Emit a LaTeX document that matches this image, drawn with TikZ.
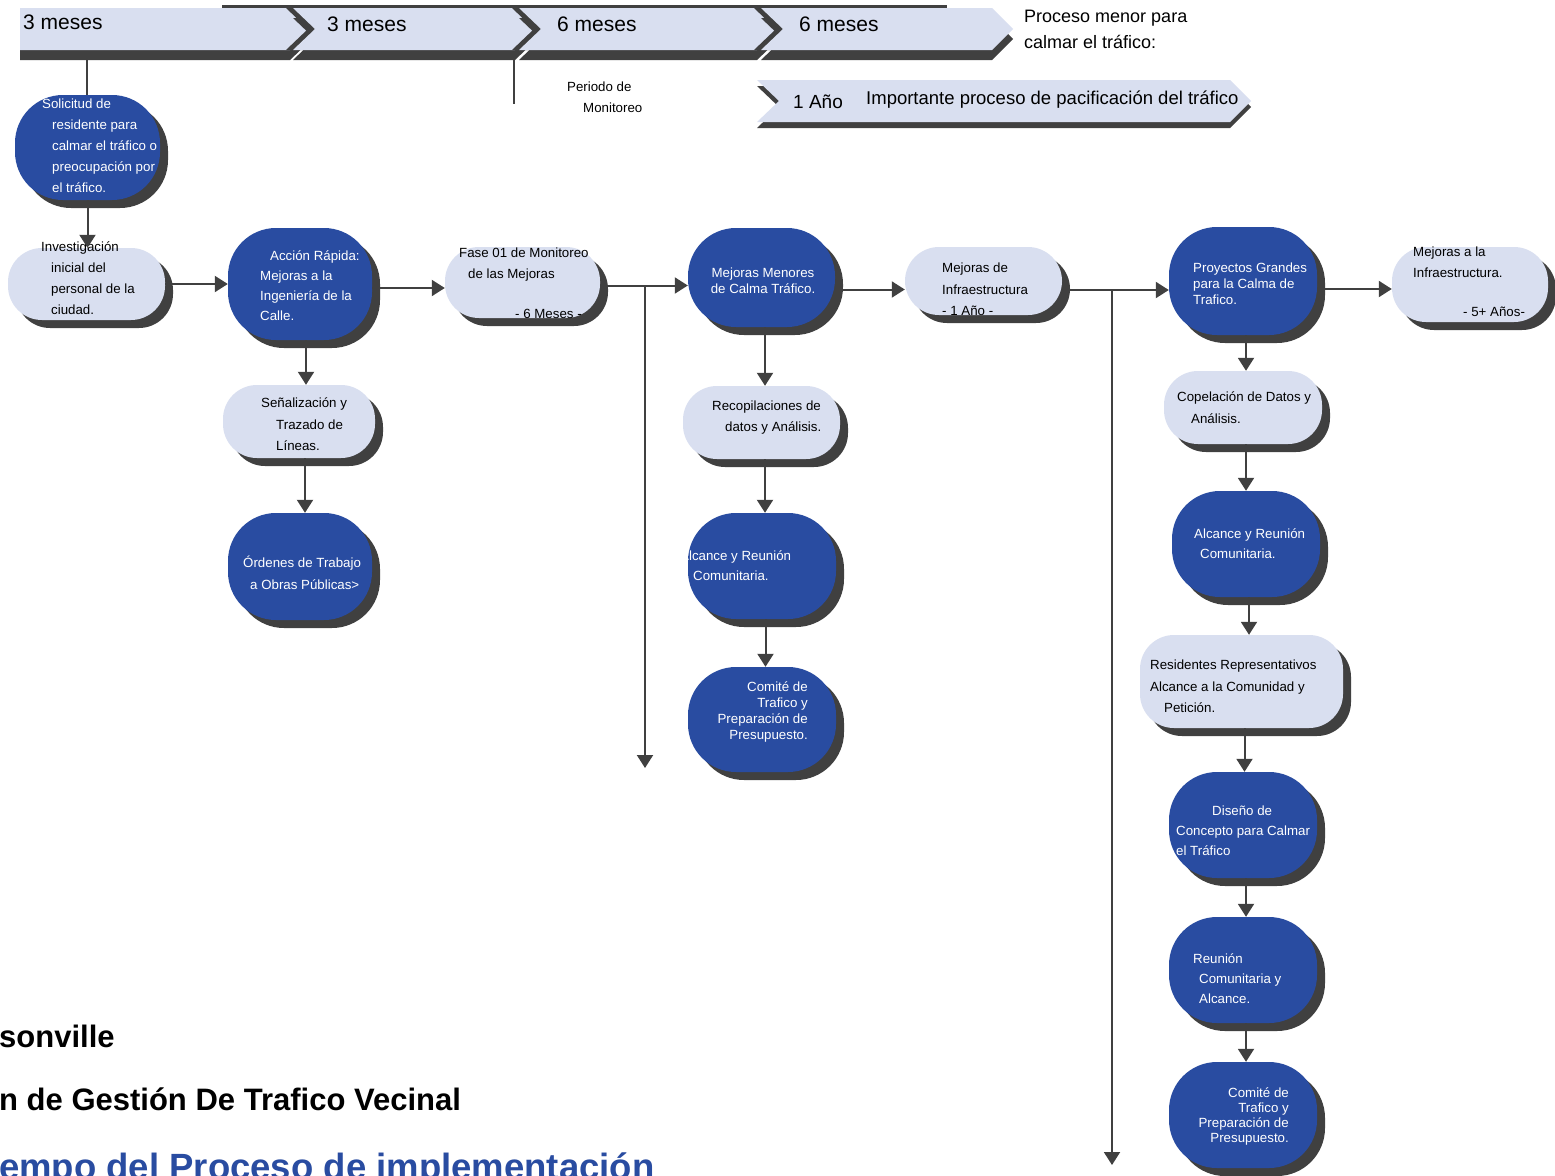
\documentclass[tikz,border=0pt]{standalone}
\usepackage{fontspec}
\setmainfont{Liberation Sans}
\usetikzlibrary{arrows.meta,shadows}

\definecolor{calmblue}{RGB}{41,76,161}
\definecolor{calmlight}{RGB}{217,223,240}
\definecolor{calmgray}{RGB}{64,64,64}

\tikzset{
    darkblob/.style={rectangle, rounded corners=48pt, fill=calmblue, inner sep=0pt,
        drop shadow={shadow xshift=8pt, shadow yshift=-8pt, fill=calmgray, opacity=1}},
    lightblob/.style={darkblob, rounded corners=34pt, fill=calmlight},
    wtext/.style={text=white, inner sep=0pt, align=left, anchor=north west,
        font={\fontsize{13.3}{21}\selectfont}},
    btext/.style={wtext, text=black},
    chevron/.style={fill=calmlight,
        drop shadow={shadow xshift=0pt, shadow yshift=-#1, fill=calmgray, opacity=1}},
    chevron/.default=10pt,
    notched/.style={chevron,
        general shadow={shadow xshift=-7pt, fill=calmgray}},
    conn/.style={draw=calmgray, line width=2pt},
    arr/.style={conn, -{Triangle[width=16pt,length=13pt]}},
    heading/.style={anchor=base west, inner sep=0pt, font={\bfseries\fontsize{31}{36}\selectfont}}
}

\begin{document}
\begin{tikzpicture}[x=1pt, y=-1pt]
    \useasboundingbox (0,0) rectangle (1555,1175);
    \clip (0,0) rectangle (1555,1175);
    \fill[white] (0,0) rectangle (1555,1175);

    \fill[calmgray] (222,5) rectangle (947,9);
    \path[chevron] (20,8) -- (290,8) -- (312,29) -- (290,50) -- (20,50) -- cycle;
    \path[notched] (293,8) -- (515,8) -- (537,29) -- (515,50) -- (293,50) -- (315,29) -- cycle;
    \path[notched] (519,8) -- (757,8) -- (779,29) -- (757,50) -- (519,50) -- (541,29) -- cycle;
    \path[notched] (761,8) -- (992,8) -- (1013,29) -- (992,50) -- (761,50) -- (783,29) -- cycle;
    \foreach \x/\y/\t [count=\i] in {23/29/3 meses, 327/31/3 meses, 557/31/6 meses, 799/31/6 meses}
        \node[anchor=base west, inner sep=0pt, font={\fontsize{21}{24}\selectfont}] (dur\i) at (\x,\y) {\t};
    \node[btext, font={\fontsize{18}{26}\selectfont}] (minor) at (1024,10) {Proceso menor para\\calmar el tráfico:};

    \path[chevron=6pt] (757,80) -- (1230,80) -- (1251,101) -- (1230,122) -- (757,122) -- (779,101) -- cycle;
    \node[anchor=base west, inner sep=0pt, font={\fontsize{19}{22}\selectfont}] (year) at (793,108) {1 Año};
    \node[anchor=base west, inner sep=0pt, font={\fontsize{18.5}{22}\selectfont}] (major) at (866,104) {Importante proceso de pacificación del tráfico};
    \node[btext] (period) at (567,82) {Periodo de\\\hspace*{16pt}Monitoreo};

    \node[darkblob, minimum width=145pt, minimum height=105pt] (sol) at (87.5,147.5) {};
    \node[lightblob, minimum width=157pt, minimum height=72pt] (inv) at (86.5,284) {};
    \node[darkblob, minimum width=144pt, minimum height=112pt] (acc) at (300,284) {};
    \node[lightblob, minimum width=155pt, minimum height=71pt] (fase) at (522.5,282.5) {};
    \node[lightblob, minimum width=152pt, minimum height=73pt] (sen) at (299,421.5) {};
    \node[darkblob, minimum width=144pt, minimum height=107pt] (ord) at (300,566.5) {};
    \node[darkblob, minimum width=147pt, minimum height=99pt] (mm) at (761.5,277.5) {};
    \node[lightblob, minimum width=157pt, minimum height=68pt] (inf) at (983.5,281) {};
    \node[lightblob, minimum width=157pt, minimum height=73pt] (rec) at (761.5,422.5) {};
    \node[darkblob, minimum width=148pt, minimum height=106pt] (alcA) at (762,566) {};
    \node[darkblob, minimum width=148pt, minimum height=105pt] (comA) at (762,719.5) {};
    \node[darkblob, minimum width=148pt, minimum height=108pt] (pg) at (1243,281) {};
    \node[lightblob, minimum width=156pt, minimum height=75pt] (mi) at (1470,284.5) {};
    \node[lightblob, minimum width=158pt, minimum height=73pt] (cop) at (1243,407.5) {};
    \node[darkblob, minimum width=148pt, minimum height=106pt] (alcB) at (1246,544) {};
    \node[lightblob, minimum width=203pt, minimum height=93pt] (res) at (1241.5,681.5) {};
    \node[darkblob, minimum width=148pt, minimum height=106pt] (dis) at (1243,825) {};
    \node[darkblob, minimum width=148pt, minimum height=106pt] (reu) at (1243,970) {};
    \node[darkblob, minimum width=148pt, minimum height=106pt] (comB) at (1243,1115) {};

    \node[wtext] (solT) at (42,99) {Solicitud de\\\hspace*{10pt}residente para\\\hspace*{10pt}calmar el tráfico o\\\hspace*{10pt}preocupación por\\\hspace*{10pt}el tráfico.};
    \node[btext] (invT) at (41,242) {Investigación\\\hspace*{10pt}inicial del\\\hspace*{10pt}personal de la\\\hspace*{10pt}ciudad.};
    \node[wtext, font={\fontsize{13.3}{20}\selectfont}] (accT) at (260,251) {\hspace*{10pt}Acción Rápida:\\Mejoras a la\\Ingeniería de la\\Calle.};
    \node[btext] (faseT) at (459,248) {Fase 01 de Monitoreo\\\hspace*{9pt}de las Mejoras\\[19pt]\hspace*{56pt}- 6 Meses -};
    \node[btext, font={\fontsize{13.3}{21.5}\selectfont}] (senT) at (261,398) {Señalización y\\\hspace*{15pt}Trazado de\\\hspace*{15pt}Líneas.};
    \node[wtext, font={\fontsize{13.3}{22}\selectfont}] (ordT) at (243,556) {Órdenes de Trabajo\\\hspace*{7pt}a Obras Públicas>};
    \node[wtext, anchor=north, align=center, font={\fontsize{13.3}{16}\selectfont}] (mmT) at (763,268) {Mejoras Menores\\de Calma Tráfico.};
    \node[btext, font={\fontsize{13.3}{21.5}\selectfont}] (infT) at (942,263) {Mejoras de\\Infraestructura\\- 1 Año -};
    \node[btext] (recT) at (712,401) {Recopilaciones de\\\hspace*{13pt}datos y Análisis.};
    \node[wtext, font={\fontsize{13.3}{20}\selectfont}] (alcAT) at (680,550) {Alcance y Reunión\\\hspace*{13pt}Comunitaria.};
    \node[wtext, anchor=north east, align=right, font={\fontsize{13.3}{16}\selectfont}] (comAT) at (808,681) {Comité de\\Trafico y\\Preparación de\\Presupuesto.};
    \node[wtext, font={\fontsize{13.3}{16}\selectfont}] (pgT) at (1193,263) {Proyectos Grandes\\para la Calma de\\Trafico.};
    \node[btext] (miT) at (1413,247) {Mejoras a la\\Infraestructura.\\[18pt]\hspace*{50pt}- 5+ Años-};
    \node[btext, font={\fontsize{13.3}{21.5}\selectfont}] (copT) at (1177,392) {Copelación de Datos y\\\hspace*{14pt}Análisis.};
    \node[wtext, font={\fontsize{13.3}{20}\selectfont}] (alcBT) at (1194,528) {Alcance y Reunión\\\hspace*{6pt}Comunitaria.};
    \node[btext, font={\fontsize{13.3}{21.5}\selectfont}] (resT) at (1150,660) {Residentes Representativos\\Alcance a la Comunidad y\\\hspace*{14pt}Petición.};
    \node[wtext, font={\fontsize{13.3}{20}\selectfont}] (disT) at (1176,806) {\hspace*{36pt}Diseño de\\Concepto para Calmar\\el Tráfico};
    \node[wtext, font={\fontsize{13.3}{20}\selectfont}] (reuT) at (1193,953) {Reunión\\\hspace*{6pt}Comunitaria y\\\hspace*{6pt}Alcance.};
    \node[wtext, anchor=north east, align=right, font={\fontsize{13.3}{15.3}\selectfont}] (comBT) at (1289,1087) {Comité de\\Trafico y\\Preparación de\\Presupuesto.};

    \coordinate (tlA) at (87,58);
    \coordinate (tlB) at (514,58);
    \coordinate (tlBe) at (514,104);
    \coordinate (brA) at (645,768);
    \coordinate (brB) at (1112,1165);
    \draw[conn] (tlA) -- (tlA |- sol.north);
    \draw[conn] (tlB) -- (tlBe);

    \draw[arr] (sol.south) -- (sol.south |- inv.north);
    \draw[arr] (inv.east) -- (inv.east -| acc.west);
    \draw[arr] ([yshift=-4pt]acc.east) -- ([yshift=-4pt]acc.east -| fase.west);
    \draw[arr] ([yshift=-3pt]fase.east) -- ([yshift=-3pt]fase.east -| mm.west);
    \draw[arr] ([yshift=-3pt]fase.east -| brA) -- (brA);
    \draw[arr] ([yshift=-12pt]mm.east) -- ([yshift=-12pt]mm.east -| inf.west);
    \draw[arr] ([yshift=-9pt]inf.east) -- ([yshift=-9pt]inf.east -| pg.west);
    \draw[arr] ([yshift=-9pt]inf.east -| brB) -- (brB);
    \draw[arr] ([yshift=-8pt]pg.east) -- ([yshift=-8pt]pg.east -| mi.west);

    \foreach \a/\b in {acc/sen, sen/ord}
        \draw[arr] ([xshift=6pt]\a.south) -- ([xshift=6pt]\a.south |- \b.north);
    \foreach \a/\b in {mm/rec, rec/alcA, alcA/comA}
        \draw[arr] ([xshift=3.5pt]\a.south) -- ([xshift=3.5pt]\a.south |- \b.north);
    \foreach \a/\b in {pg/cop, cop/alcB, alcB/res, res/dis, dis/reu, reu/comB}
        \draw[arr] ([xshift=3pt]\a.south) -- ([xshift=3pt]\a.south |- \b.north);

    \node[heading] (city) at (-1,1047) {sonville};
    \node[heading] (plan) at (-1,1110) {n de Gestión De Trafico Vecinal};
    \node[heading, text=calmblue, font={\bfseries\fontsize{36.5}{40}\selectfont}] (time) at (-1,1179) {empo del Proceso de implementación};
\end{tikzpicture}
\end{document}
